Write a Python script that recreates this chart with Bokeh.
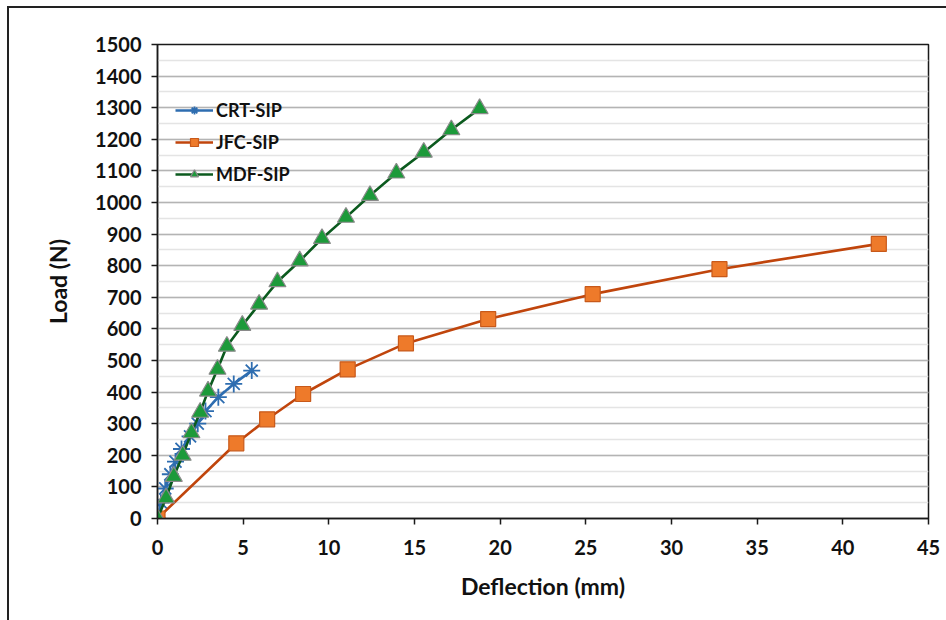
from bokeh.plotting import figure
from bokeh.models import (Range1d, SingleIntervalTicker, Legend, LegendItem, Column)
from bokeh.embed import file_html
from bokeh.resources import INLINE

# Load–deflection data for the three SIP panel types
crt_defl = [0, 0.2, 0.45, 0.75, 1.05, 1.4, 1.9, 2.35, 2.8, 3.55, 4.45, 5.5]
crt_load = [0, 50, 95, 140, 180, 220, 260, 300, 340, 384, 426, 468]

jfc_defl = [0, 4.6, 6.4, 8.5, 11.1, 14.5, 19.3, 25.4, 32.8, 42.1]
jfc_load = [0, 238, 314, 394, 472, 554, 631, 710, 789, 869]

mdf_defl = [0, 0.5, 0.95, 1.47, 1.98, 2.49, 2.95, 3.5, 4.05, 4.95, 5.93, 7.0,
            8.3, 9.6, 11.0, 12.4, 13.94, 15.54, 17.15, 18.8]
mdf_load = [0, 65, 133, 200, 271, 336, 403, 472, 545, 611, 678, 749,
            815, 886, 953, 1022, 1093, 1159, 1230, 1297]

series_names = ["CRT-SIP", "JFC-SIP", "MDF-SIP"]

FONT = "Lato"
TXT = "#111111"

p = figure(width=937, height=612, output_backend="svg", toolbar_location=None,
           x_range=Range1d(0, 45), y_range=Range1d(0, 1500),
           min_border_left=148, min_border_right=18,
           min_border_top=36, min_border_bottom=102)

p.background_fill_color = "white"
p.border_fill_color = "white"
p.outline_line_color = "#1a1a1a"
p.outline_line_width = 1.5

# grid: major every 100 N, minor every 50 N, no vertical lines
p.yaxis.ticker = SingleIntervalTicker(interval=100, num_minor_ticks=2)
p.xaxis.ticker = SingleIntervalTicker(interval=5)
p.xgrid.grid_line_color = None
p.ygrid.grid_line_color = "#b4b4b4"
p.ygrid.grid_line_width = 1.5
p.ygrid.minor_grid_line_color = "#e4e4e4"
p.ygrid.minor_grid_line_width = 1.5

for ax in (p.xaxis, p.yaxis):
    ax.axis_line_color = "#1a1a1a"
    ax.axis_line_width = 1.5
    ax.major_tick_line_color = "#1a1a1a"
    ax.major_tick_line_width = 1.5
    ax.major_tick_in = 0
    ax.major_tick_out = 6
    ax.minor_tick_line_color = None
    ax.major_label_text_font = FONT
    ax.major_label_text_font_style = "bold"
    ax.major_label_text_font_size = "20px"
    ax.major_label_text_color = TXT
    ax.axis_label_text_font = FONT
    ax.axis_label_text_font_style = "bold"
    ax.axis_label_text_font_size = "23px"
    ax.axis_label_text_color = TXT

p.xaxis.axis_label = "Deflection (mm)"
p.yaxis.axis_label = "Load (N)"
p.xaxis.major_label_standoff = 15
p.xaxis.axis_label_standoff = 14
p.yaxis.major_label_standoff = 10
p.yaxis.axis_label_standoff = 20

# series
crt_line = p.line(crt_defl, crt_load, line_color="#2e6db0", line_width=2.6)
crt_mark = p.scatter(crt_defl, crt_load, marker="asterisk", size=17,
                     line_color="#2e6db0", line_width=1.8)

jfc_line = p.line(jfc_defl, jfc_load, line_color="#c0450c", line_width=2.6)
jfc_mark = p.scatter(jfc_defl, jfc_load, marker="square", size=15,
                     fill_color="#ee7a2a", line_color="#c8591a", line_width=1.2)

mdf_line = p.line(mdf_defl, mdf_load, line_color="#0b5a1e", line_width=2.6)
mdf_mark = p.scatter(mdf_defl, mdf_load, marker="triangle", size=17,
                     fill_color="#1c9a3a", line_color="#8a8a8a", line_width=1.2)

legend = Legend(items=[
    LegendItem(label=series_names[0], renderers=[crt_line, crt_mark]),
    LegendItem(label=series_names[1], renderers=[jfc_line, jfc_mark]),
    LegendItem(label=series_names[2], renderers=[mdf_line, mdf_mark]),
], location=(18, 333))
legend.background_fill_alpha = 0
legend.border_line_color = None
legend.padding = 0
legend.margin = 0
legend.spacing = 10
legend.glyph_width = 38
legend.glyph_height = 20
legend.label_height = 20
legend.label_standoff = 3
legend.label_text_font = FONT
legend.label_text_font_style = "bold"
legend.label_text_font_size = "18px"
legend.label_text_color = TXT
p.add_layout(legend, "center")

page = Column(children=[p], margin=(6, 0, 0, 7),
              styles={"border-left": "2px solid #222", "border-top": "2px solid #222"})

open("out.html", "w").write(file_html(page, INLINE))
